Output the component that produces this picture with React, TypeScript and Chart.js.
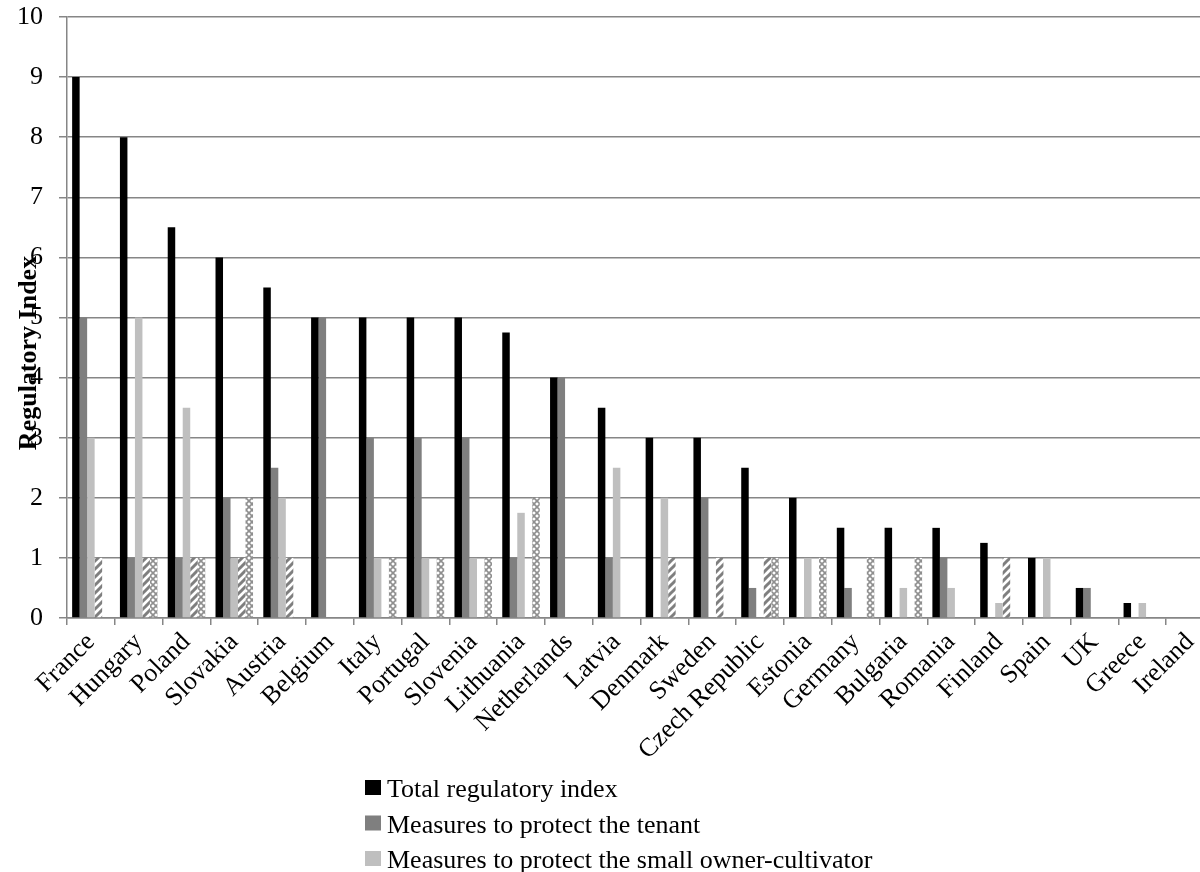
import React, { useEffect, useRef } from 'react';
import { Chart, registerables } from 'chart.js';

Chart.register(...registerables);

const FONT = "'Liberation Serif', 'Times New Roman', serif";

const categories = [
  'France', 'Hungary', 'Poland', 'Slovakia', 'Austria', 'Belgium', 'Italy', 'Portugal',
  'Slovenia', 'Lithuania', 'Netherlands', 'Latvia', 'Denmark', 'Sweden', 'Czech Republic',
  'Estonia', 'Germany', 'Bulgaria', 'Romania', 'Finland', 'Spain', 'UK', 'Greece', 'Ireland',
];

const totalIndex = [9, 8, 6.5, 6, 5.5, 5, 5, 5, 5, 4.75, 4, 3.5, 3, 3, 2.5, 2, 1.5, 1.5, 1.5, 1.25, 1, 0.5, 0.25, 0];
const tenantMeasures = [5, 1, 1, 2, 2.5, 5, 3, 3, 3, 1, 4, 1, 0, 2, 0.5, 0, 0.5, 0, 1, 0, 0, 0.5, 0, 0];
const smallOwnerMeasures = [3, 5, 3.5, 1, 2, 0, 1, 1, 1, 1.75, 0, 2.5, 2, 0, 0, 1, 0, 0.5, 0.5, 0.25, 1, 0, 0.25, 0];
const fragmentationMeasures = [1, 1, 1, 1, 1, 0, 0, 0, 0, 0, 0, 0, 1, 1, 1, 0, 0, 0, 0, 1, 0, 0, 0, 0];
const otherMeasures = [0, 1, 1, 2, 0, 0, 1, 1, 1, 2, 0, 0, 0, 0, 1, 1, 1, 1, 0, 0, 0, 0, 0, 0];

const seriesLabels = [
  'Total regulatory index',
  'Measures to protect the tenant',
  'Measures to protect the small owner-cultivator',
  'Measures to prevent land fragmentation',
  'Other measures',
];

const yTicks = [0, 1, 2, 3, 4, 5, 6, 7, 8, 9, 10];
const yTitle = 'Regulatory Index';

function makeHatch(): CanvasPattern | string {
  const c = document.createElement('canvas');
  c.width = 8;
  c.height = 8;
  const g = c.getContext('2d');
  if (!g) return '#aaa';
  g.fillStyle = '#ffffff';
  g.fillRect(0, 0, 8, 8);
  g.strokeStyle = '#7f7f7f';
  g.lineWidth = 3;
  g.beginPath();
  g.moveTo(-2, 10);
  g.lineTo(10, -2);
  g.moveTo(-2, 2);
  g.lineTo(2, -2);
  g.moveTo(6, 10);
  g.lineTo(10, 6);
  g.stroke();
  return g.createPattern(c, 'repeat') || '#aaa';
}

function makeDots(): CanvasPattern | string {
  const c = document.createElement('canvas');
  c.width = 6;
  c.height = 6;
  const g = c.getContext('2d');
  if (!g) return '#bbb';
  g.fillStyle = '#ffffff';
  g.fillRect(0, 0, 6, 6);
  g.strokeStyle = '#8f8f8f';
  g.lineWidth = 1.6;
  g.beginPath();
  g.moveTo(-1, 7);
  g.lineTo(7, -1);
  g.moveTo(-1, -1);
  g.lineTo(7, 7);
  g.stroke();
  return g.createPattern(c, 'repeat') || '#bbb';
}

const legendPlugin = {
  id: 'verticalLegend',
  afterDraw(chart: any) {
    const ctx = chart.ctx as CanvasRenderingContext2D;
    ctx.save();
    ctx.font = `26px ${FONT}`;
    ctx.textBaseline = 'alphabetic';
    ctx.textAlign = 'left';
    chart.data.datasets.forEach((ds: any, i: number) => {
      const cy = 787.5 + i * 35.5;
      ctx.fillStyle = ds.backgroundColor;
      ctx.fillRect(365, cy - 7.5, 16, 15);
      ctx.fillStyle = '#000';
      ctx.fillText(ds.label, 387, cy + 9.5);
    });
    ctx.restore();
  },
};

const yTitlePlugin = {
  id: 'yTitleOverlay',
  afterDraw(chart: any) {
    const ctx = chart.ctx as CanvasRenderingContext2D;
    ctx.save();
    ctx.font = `bold 26px ${FONT}`;
    ctx.fillStyle = '#000';
    ctx.textAlign = 'center';
    ctx.textBaseline = 'middle';
    ctx.translate(29, 353);
    ctx.rotate(-Math.PI / 2);
    ctx.fillText(yTitle, 0, 0);
    ctx.restore();
  },
};

export default function App() {
  const ref = useRef<HTMLCanvasElement | null>(null);

  useEffect(() => {
    if (!ref.current) return;
    const hatch = makeHatch();
    const dots = makeDots();
    const colors: any[] = ['#000000', '#7f7f7f', '#bfbfbf', hatch, dots];
    const values = [totalIndex, tenantMeasures, smallOwnerMeasures, fragmentationMeasures, otherMeasures];

    const chart = new Chart(ref.current, {
      type: 'bar',
      data: {
        labels: categories,
        datasets: values.map((v, i) => ({
          label: seriesLabels[i],
          data: v,
          backgroundColor: colors[i],
          borderWidth: 0,
          categoryPercentage: 0.785,
          barPercentage: 1,
        })),
      },
      options: {
        responsive: false,
        animation: false,
        devicePixelRatio: 1,
        layout: { padding: { left: 0, right: 2, top: 17, bottom: 162 } },
        plugins: {
          legend: { display: false },
          tooltip: { enabled: false },
          title: { display: false },
        },
        scales: {
          x: {
            afterFit: (scale: any) => {
              scale.height = 140;
              scale.paddingLeft = 0;
              scale.paddingRight = 0;
            },
            grid: {
              display: true,
              drawOnChartArea: false,
              drawTicks: true,
              tickLength: 7,
              color: '#868686',
              lineWidth: 1.5,
              offset: true,
            },
            border: { display: true, color: '#868686', width: 1.5 },
            ticks: {
              autoSkip: false,
              minRotation: 45,
              maxRotation: 45,
              padding: 2,
              color: '#000',
              font: { family: FONT, size: 26 },
            },
          },
          y: {
            min: 0,
            max: 10,
            afterFit: (scale: any) => {
              scale.width = 67;
              scale.paddingTop = 0;
              scale.paddingBottom = 0;
            },
            afterBuildTicks: (scale: any) => {
              scale.ticks = yTicks.map((v) => ({ value: v }));
            },
            grid: {
              color: '#868686',
              lineWidth: 1.5,
              drawTicks: true,
              tickLength: 8,
            },
            border: { display: true, color: '#868686', width: 1.5 },
            ticks: {
              padding: 16,
              color: '#000',
              font: { family: FONT, size: 26 },
            },
          },
        },
      },
      plugins: [legendPlugin, yTitlePlugin],
    });

    return () => chart.destroy();
  }, []);

  return (
    <div
      style={{
        position: 'absolute',
        left: 0,
        top: 0,
        width: 1200,
        height: 872,
        overflow: 'hidden',
        background: '#fff',
      }}
    >
      <canvas ref={ref} width={1216} height={920} style={{ display: 'block' }} />
    </div>
  );
}
